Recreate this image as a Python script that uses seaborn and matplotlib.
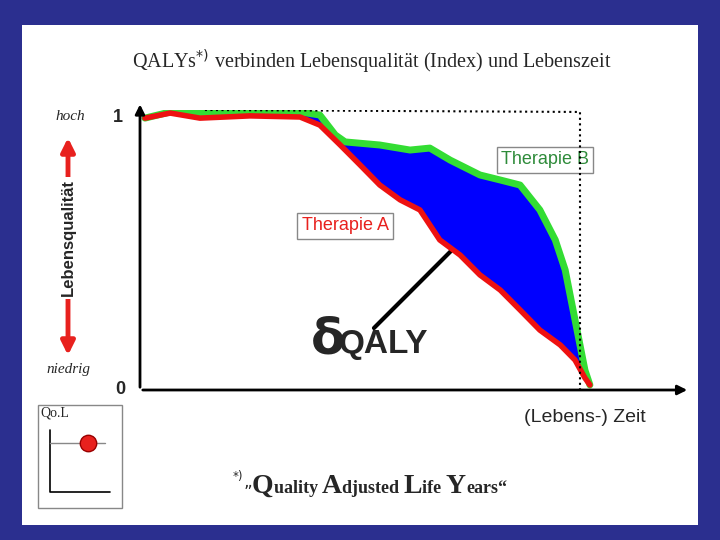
import numpy as np
import matplotlib.pyplot as plt
import seaborn as sns
from matplotlib.patches import Rectangle, FancyArrowPatch

sns.set_style("white")

# Therapie B (green) curve
b_x = [0.9, 5.5, 10.9, 20, 29.1, 32.7, 35.5, 37.3, 43.6, 49.1, 52.7, 56.4, 61.8, 65.5, 69.1, 72.7, 75.5, 77.3, 79.1, 80.9, 81.8]
b_y = [.971, .993, .989, .993, .993, .982, .911, .886, .875, .857, .864, .821, .768, .75, .732, .643, .536, .429, .25, .071, .018]
# Therapie A (red) curve
a_x = [0.9, 5.5, 10.9, 20, 29.1, 32.7, 36.4, 40, 43.6, 47.3, 50.9, 54.5, 58.2, 61.8, 65.5, 69.1, 72.7, 76.4, 79.1, 80.9, 81.8]
a_y = [.971, .989, .971, .979, .975, .946, .875, .804, .732, .679, .643, .536, .482, .411, .357, .286, .214, .161, .107, .043, .018]
# dotted "ideal" line
d_x = [11.8, 80, 80]
d_y = [1.0, 0.993, 0.0]
# footer pieces: (text, big initial?)
footer = [("Q", True), ("uality ", False), ("A", True), ("djusted ", False),
          ("L", True), ("ife ", False), ("Y", True), ("ears“", False)]

fig = plt.figure(figsize=(7.2, 5.4), dpi=100)
fig.patch.set_facecolor('#2B2F8F')
bg = fig.add_axes([0, 0, 1, 1])
bg.set_xlim(0, 720)
bg.set_ylim(540, 0)
bg.axis('off')
bg.add_patch(Rectangle((22, 25), 676, 500, facecolor='white', edgecolor='none'))

bg.text(372, 62, "QALYs$^{*)}$ verbinden Lebensqualität (Index) und Lebenszeit",
        ha='center', va='center', fontsize=14.5, family='Liberation Serif')
bg.text(70, 117, "hoch", ha='center', va='center', fontsize=11, style='italic', family='Liberation Serif')
bg.text(68, 370, "niedrig", ha='center', va='center', fontsize=11, style='italic', family='Liberation Serif')
bg.text(118, 117, "1", ha='center', va='center', fontsize=13, fontweight='bold', family='Liberation Sans')
bg.text(120, 390, "0", ha='center', va='center', fontsize=13, fontweight='bold', family='Liberation Sans')
bg.add_patch(FancyArrowPatch((68, 135), (68, 358), arrowstyle='<|-|>', mutation_scale=20,
                             color='#E8211E', lw=3.5))
bg.text(68, 238, "Lebensqualität", rotation=90, ha='center', va='center', fontsize=12,
        fontweight='bold', family='Liberation Sans',
        bbox=dict(facecolor='white', edgecolor='none', pad=2))
bg.text(585, 417, "(Lebens-) Zeit", ha='center', va='center', fontsize=14, family='Liberation Sans')
bg.text(345, 226, "Therapie A", ha='center', va='center', fontsize=13, color='#E8211E',
        family='Liberation Sans', bbox=dict(facecolor='white', edgecolor='#888888', pad=3))
bg.text(545, 160, "Therapie B", ha='center', va='center', fontsize=13, color='#2E8B3A',
        family='Liberation Sans', bbox=dict(facecolor='white', edgecolor='#888888', pad=3))
bg.text(328, 340, "δ", ha='center', va='center', fontsize=36, fontweight='bold', family='DejaVu Sans')
bg.text(383, 345, "QALY", ha='center', va='center', fontsize=24, fontweight='bold', family='Liberation Sans')
bg.add_patch(FancyArrowPatch((372, 330), (472, 230), arrowstyle='-|>', mutation_scale=22,
                             color='black', lw=3))

# small inset
bg.add_patch(Rectangle((38, 405), 84, 103, facecolor='white', edgecolor='#888888', lw=1))
bg.text(55, 413, "Qo.L", ha='center', va='center', fontsize=10, family='Liberation Serif')
bg.plot([50, 50, 110], [430, 492, 492], color='black', lw=1.2)
bg.plot([50, 105], [443, 443], color='#888888', lw=1)
bg.scatter([88], [443], s=140, color='#E8211E', edgecolor='#990000', zorder=5)

# footer, placed piece by piece
renderer = fig.canvas.get_renderer()
bg.text(252, 488, "$^{*)}$„", ha='right', va='baseline', fontsize=12, family='Liberation Serif')
x0 = 252
for piece, big in footer:
    t = bg.text(x0, 493, piece, ha='left', va='baseline', fontsize=20 if big else 13,
                fontweight='bold', family='Liberation Serif')
    x0 += t.get_window_extent(renderer).width

# main chart
ax = fig.add_axes([140 / 720, 1 - 390 / 540, 550 / 720, 280 / 540])
ax.set_xlim(0, 100)
ax.set_ylim(0, 1)
ax.axis('off')
grid = np.linspace(0.9, 81.8, 400)
ax.fill_between(grid, np.interp(grid, a_x, a_y), np.interp(grid, b_x, b_y), color='#0000FF')
sns.lineplot(x=b_x, y=b_y, ax=ax, color='#33DD33', lw=5, sort=False)
sns.lineplot(x=a_x, y=a_y, ax=ax, color='#EE1111', lw=4, sort=False)
ax.plot(d_x, d_y, color='black', lw=1.5, ls=':')
ax.annotate('', xy=(0, 1.03), xytext=(0, 0), annotation_clip=False,
            arrowprops=dict(arrowstyle='-|>', color='black', lw=2, mutation_scale=14))
ax.annotate('', xy=(100, 0), xytext=(0, 0), annotation_clip=False,
            arrowprops=dict(arrowstyle='-|>', color='black', lw=2, mutation_scale=14))

fig.savefig('out.png', dpi=100, facecolor=fig.get_facecolor())
